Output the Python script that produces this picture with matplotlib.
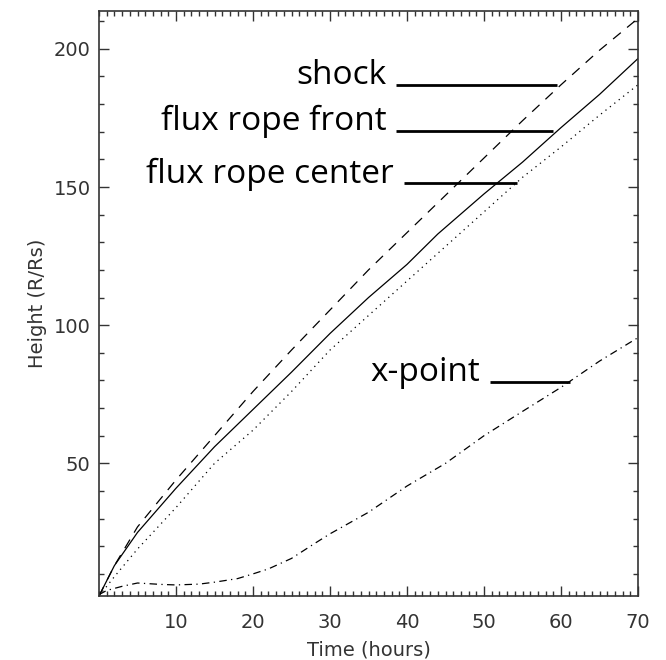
import matplotlib
matplotlib.use("Agg")
import matplotlib.pyplot as plt
from matplotlib.ticker import MultipleLocator, FixedLocator

# Data
time_shock = [0, 2, 5, 10, 15, 20, 25, 30, 35, 40, 45, 50, 55, 60, 65, 70]
shock = [2, 13, 27, 44, 60, 76, 91, 105.5, 120, 133.5, 147, 160.5, 174, 187, 199.5, 211]

time_front = [0, 2, 5, 10, 15, 20, 25, 30, 35, 40, 44, 50, 55, 60, 65, 70]
front = [2, 13, 25, 41, 56, 69.5, 83, 97, 110, 122, 133, 147.5, 159, 171.5, 183.5, 196.5]

time_center = [0, 2, 5, 10, 15, 20, 25, 30, 35, 40, 45, 50, 55, 60, 65, 70]
center = [2, 9, 19, 34, 50, 62, 76, 91, 103.5, 116, 128.5, 141, 153.5, 164.5, 176, 187]

time_xpoint = [0, 1, 3, 5, 8, 10, 13, 15, 18, 20, 22, 25, 28, 30, 35, 40, 45, 50, 55, 60, 65, 70]
xpoint = [2.5, 4, 5.5, 6.7, 6.2, 6.0, 6.3, 7.0, 8.3, 10, 11.8, 15.6, 21, 24.5, 32.3, 41.8, 50, 60, 68.8, 77.5, 87, 95.5]

labels = ["shock", "flux rope front", "flux rope center", "x-point"]
label_line_x = [(38.6, 59.5), (38.6, 59.0), (39.6, 54.3), (50.8, 61.2)]
label_line_y = [187, 170.4, 151.3, 79.4]

x_ticks = [10, 20, 30, 40, 50, 60, 70]
y_ticks = [50, 100, 150, 200]

fig = plt.figure(figsize=(6.66, 6.60), dpi=100)
ax = fig.add_axes([99/666, 1-596/660, (638-99)/666, (596-11)/660])

lw = 0.9
ax.plot(time_shock, shock, color='black', lw=lw, linestyle=(0, (8, 6.5)))
ax.plot(time_front, front, color='black', lw=lw, linestyle='-')
ax.plot(time_center, center, color='black', lw=lw, linestyle=(0, (1, 3.5)))
ax.plot(time_xpoint, xpoint, color='black', lw=lw, linestyle=(0, (6, 3.5, 1, 3.5)))

for lab, (x0, x1), y in zip(labels, label_line_x, label_line_y):
    ax.plot([x0, x1], [y, y], color='black', lw=2.0, solid_capstyle='butt')
    ax.text(x0 - 1.3, y + 0.3, lab, ha='right', va='baseline',
            fontsize=24, family='Open Sans', color='black')

ax.set_xlim(0, 70)
ax.set_ylim(2, 213.7)
ax.xaxis.set_major_locator(FixedLocator(x_ticks))
ax.xaxis.set_minor_locator(MultipleLocator(1))
ax.yaxis.set_major_locator(FixedLocator(y_ticks))
ax.yaxis.set_minor_locator(MultipleLocator(10))

tc = '#333333'
ax.tick_params(which='both', direction='in', top=True, right=True,
               colors=tc, labelcolor=tc, labelsize=14, width=1.0)
ax.tick_params(which='major', length=7.5)
ax.tick_params(which='minor', length=3.8)
ax.tick_params(axis='x', pad=12)
ax.tick_params(axis='y', pad=6)
for s in ax.spines.values():
    s.set_color(tc)
    s.set_linewidth(1.2)

ax.set_xlabel('Time (hours)', fontsize=14, color=tc, labelpad=6)
ax.set_ylabel('Height (R/Rs)', fontsize=14, color=tc, labelpad=5)

fig.savefig('out.png', dpi=100)
